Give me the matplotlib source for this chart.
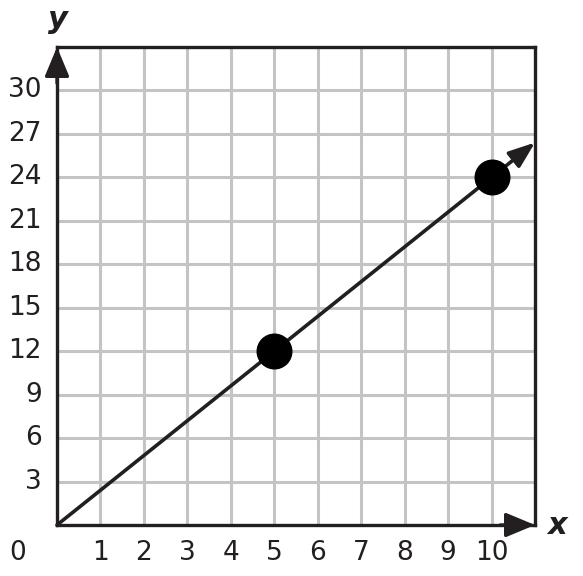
import matplotlib
matplotlib.use("Agg")
import matplotlib.pyplot as plt

x_ticks = [1, 2, 3, 4, 5, 6, 7, 8, 9, 10]
y_ticks = [3, 6, 9, 12, 15, 18, 21, 24, 27, 30]
points_x = [5, 10]
points_y = [12, 24]
line_x = [0, 11]
line_y = [0, 26.4]
x_max, y_max = 11, 33

fig = plt.figure(figsize=(5.83, 5.76), dpi=100)
ax = fig.add_axes([57/583, 1-525/576, (535-57)/583, (525-47)/576])
ax.set_xlim(0, x_max)
ax.set_ylim(0, y_max)

for xv in x_ticks:
    ax.axvline(xv, color="#c4c4c4", lw=2.2, zorder=1)
for yv in y_ticks:
    ax.axhline(yv, color="#c4c4c4", lw=2.2, zorder=1)

for s in ax.spines.values():
    s.set_color("#231f20")
    s.set_linewidth(2.4)
    s.set_zorder(3)

ax.set_xticks([])
ax.set_yticks([])

# line with arrow
ax.annotate("", xy=(line_x[1], line_y[1]), xytext=(line_x[0], line_y[0]),
            arrowprops=dict(arrowstyle="-|>,head_length=1.6,head_width=0.6",
                            color="#231f20", lw=2.6, shrinkA=0, shrinkB=0),
            zorder=4, annotation_clip=False)
ax.scatter(points_x, points_y, s=620, color="black", zorder=5, clip_on=False)

# axis arrows
ax.annotate("", xy=(0, y_max), xytext=(0, y_max - 2.5),
            arrowprops=dict(arrowstyle="-|>,head_length=1.8,head_width=0.75",
                            color="#231f20", lw=2.4, shrinkA=0, shrinkB=0),
            zorder=6, annotation_clip=False)
ax.annotate("", xy=(x_max, 0), xytext=(x_max - 0.8, 0),
            arrowprops=dict(arrowstyle="-|>,head_length=1.8,head_width=0.75",
                            color="#231f20", lw=2.4, shrinkA=0, shrinkB=0),
            zorder=6, annotation_clip=False)

tc = "#231f20"
fs = 19
for xv in x_ticks:
    ax.text(xv, -1.9, str(xv), ha="center", va="center", fontsize=fs, color=tc, clip_on=False)
for yv in y_ticks:
    ax.text(-0.35, yv, str(yv), ha="right", va="center", fontsize=fs, color=tc, clip_on=False)
fig.text(18/583, 1-553/576, "0", ha="center", va="center", fontsize=fs, color=tc)

fig.text(58/583, 1-20/576, "y", ha="center", va="center", fontsize=22,
         fontweight="bold", fontstyle="italic", color=tc)
fig.text(557/583, 1-526/576, "x", ha="center", va="center", fontsize=22,
         fontweight="bold", fontstyle="italic", color=tc)

fig.savefig("out.png", dpi=100)
